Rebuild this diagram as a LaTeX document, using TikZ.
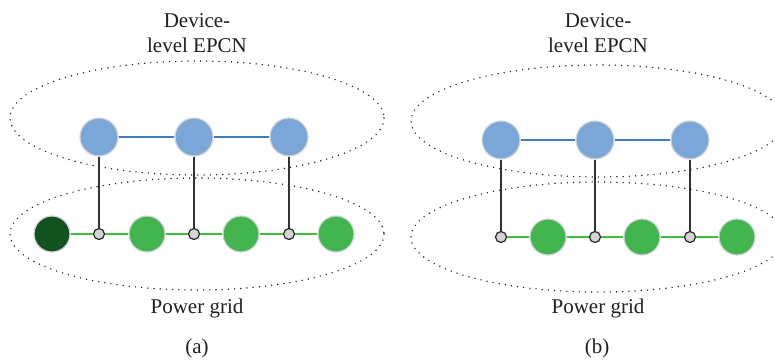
\documentclass[tikz,border=0pt]{standalone}
\usepackage{fontspec}
\setmainfont{Liberation Serif}
\usetikzlibrary{positioning}

\definecolor{devblue}{HTML}{7BA7D8}
\definecolor{linkblue}{HTML}{3F7CC4}
\definecolor{gridgreen}{HTML}{43B54F}
\definecolor{darkgrid}{HTML}{12521F}
\definecolor{linkgreen}{HTML}{3CC03C}
\definecolor{jointgray}{HTML}{D4D4D4}
\definecolor{rimgray}{HTML}{D0D4D8}
\definecolor{inkgray}{HTML}{231F20}

\begin{document}
\begin{tikzpicture}[x=0.5pt, y=-0.5pt,
    every node/.style={font=\fontsize{10.5}{12.5}\selectfont, text=inkgray},
    layer/.style={draw=black!85, line width=0.8pt, line cap=round, dash pattern=on 0pt off 3.1pt},
    device/.style={circle, fill=devblue, draw=rimgray, line width=0.6pt, minimum size=19pt, inner sep=0pt},
    bus/.style={circle, fill=gridgreen, draw=rimgray, line width=0.6pt, minimum size=18pt, inner sep=0pt},
    source/.style={bus, fill=darkgrid},
    joint/.style={circle, fill=jointgray, draw=black!85, line width=0.6pt, minimum size=5.5pt, inner sep=0pt},
    devlink/.style={linkblue, line width=0.6pt},
    gridlink/.style={linkgreen, line width=0.6pt},
    tie/.style={black!80, line width=0.7pt}]
  \useasboundingbox (0,0) rectangle (775,361);

  % (a)
  \draw[layer] (197,118) ellipse [x radius=187, y radius=57];
  \draw[layer] (197,234) ellipse [x radius=187, y radius=56];
  \node[align=center] (titleA) at (197,33) {Device-\\level EPCN};
  \node (gridA) at (197,308) {Power grid};
  \node (capA) at (197,348) {(a)};

  \node[device] (dA1) at (99,137) {};
  \node[device] (dA2) at (194,137) {};
  \node[device] (dA3) at (289,137) {};
  \node[source] (gA0) at (52,234) {};
  \node[joint] (jA1) at (99,234) {};
  \node[bus] (gA1) at (147,234) {};
  \node[joint] (jA2) at (194,234) {};
  \node[bus] (gA2) at (241,234) {};
  \node[joint] (jA3) at (289,234) {};
  \node[bus] (gA3) at (336,234) {};

  \draw[devlink] (dA1) -- (dA2) -- (dA3);
  \draw[gridlink] (gA0) -- (jA1) -- (gA1) -- (jA2) -- (gA2) -- (jA3) -- (gA3);
  \draw[tie] (dA1) -- (jA1);
  \draw[tie] (dA2) -- (jA2);
  \draw[tie] (dA3) -- (jA3);

  % (b)
  \draw[layer] (598,121) ellipse [x radius=187, y radius=56];
  \draw[layer] (598,237) ellipse [x radius=187, y radius=55];
  \node[align=center] (titleB) at (598,33) {Device-\\level EPCN};
  \node (gridB) at (598,308) {Power grid};
  \node (capB) at (597,348) {(b)};

  \node[device] (dB1) at (501,140) {};
  \node[device] (dB2) at (595,140) {};
  \node[device] (dB3) at (690,140) {};
  \node[joint] (jB1) at (501,237) {};
  \node[bus] (gB1) at (548,237) {};
  \node[joint] (jB2) at (595,237) {};
  \node[bus] (gB2) at (642,237) {};
  \node[joint] (jB3) at (690,237) {};
  \node[bus] (gB3) at (737,237) {};

  \draw[devlink] (dB1) -- (dB2) -- (dB3);
  \draw[gridlink] (jB1) -- (gB1) -- (jB2) -- (gB2) -- (jB3) -- (gB3);
  \draw[tie] (dB1) -- (jB1);
  \draw[tie] (dB2) -- (jB2);
  \draw[tie] (dB3) -- (jB3);
\end{tikzpicture}
\end{document}
